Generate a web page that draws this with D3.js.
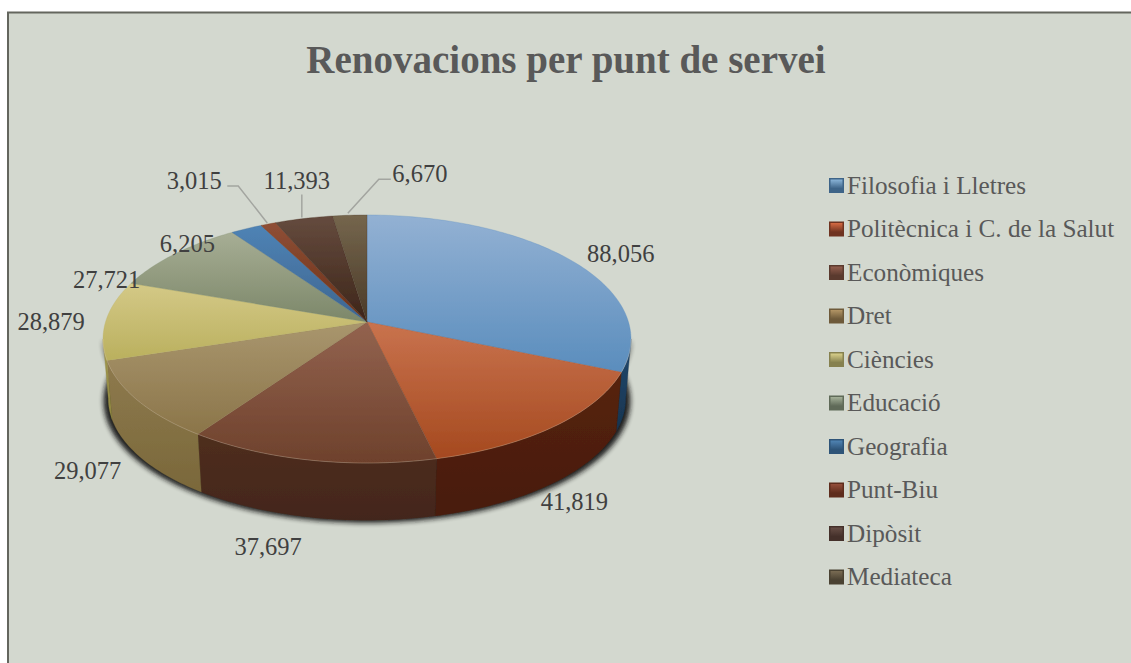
<!DOCTYPE html>
<html><head><meta charset="utf-8">
<script src="https://cdn.jsdelivr.net/npm/d3@7/dist/d3.min.js"></script>
<style>html,body{margin:0;padding:0;background:#fff;overflow:hidden}svg{display:block}text{font-family:"Liberation Serif",serif}</style>
</head><body><div id="c"></div>
<script>
const chartTitle = "Renovacions per punt de servei";
const categories = ["Filosofia i Lletres","Politècnica i C. de la Salut","Econòmiques","Dret","Ciències","Educació","Geografia","Punt-Biu","Dipòsit","Mediateca"];
const values = [88056,41819,37697,29077,28879,27721,6205,3015,11393,6670];
const topLight = ["#93b1d3","#c9734e","#93634f","#a9966e","#d4c987","#a7ae95","#4f83b5","#8f4f36","#654b3e","#75664d"];
const topDark  = ["#5a8dbd","#a5491f","#6e412c","#8b7549","#bab05e","#7c8769","#3d6590","#6b3018","#3d2519","#4a3a28"];
const sideLight = ["#234a70","#562310","#4f2e1e","#8e7a4e","#a39a50","#6c7560","#2a4d70","#5a2410","#3d2519","#4a3a28"];
const sideDark  = ["#17344f","#481b0a","#43261a","#7a683a","#8f8640","#5a6350","#1f3a55","#481b0a","#2f1c12","#3a2d20"];
const swatchEdge = ["#3e6488","#6f3320","#5a3a2e","#6e5a3a","#86814f","#5f6a58","#2e5478","#5e2c1c","#44302a","#4a4232"];
const swatchCore = ["#8ab4d8","#d66a42","#935e4e","#b29565","#d9d08a","#a5b199","#5084b4","#944e3a","#674e46","#796b53"];
const labelOffsets = [[51,-6],[19,76],[-42,86],[-50,70],[-55,1],[-68,25],[-59,15],[-74,-44],[-7,-38],[70,-42]];
const leaderElbows = {7:[[-1,-1],[-30,-38],[-41,-38]],8:[[-2,-1],[-2,-24]],9:[[-2,-2],[29,-36],[41,-36]]};

const W=1131,H=663, cx=367, cy=322, B=261.5, A=121.7, k=0.137, depth=60, bottomScale=0.98;
const svg=d3.select("#c").append("svg").attr("width",W).attr("height",H);
const defs=svg.append("defs");
svg.append("rect").attr("x",8).attr("y",12.5).attr("width",W).attr("height",H).attr("fill","#d3d8cf").attr("stroke","#64665e").attr("stroke-width",2);

const project=(t,lower=false)=>{
  const u=Math.sin(t), v=-Math.cos(t), d=1-k*v, s=lower?bottomScale:1;
  return [cx+s*B*u/d, cy+(lower?depth:0)+s*A*v/d];
};
const arcPts=(a,b,lower=false)=>{
  const n=Math.max(2,Math.ceil(Math.abs(b-a)/0.02));
  return d3.range(n+1).map(i=>project(a+(b-a)*i/n,lower));
};
const line=d3.line();
const arcs=d3.pie().sort(null)(values);
const frontL=Math.acos(-k), frontR=2*Math.PI-frontL;

const fb=defs.append("filter").attr("id","blur").attr("x","-10%").attr("y","-10%").attr("width","120%").attr("height","120%");
fb.append("feGaussianBlur").attr("stdDeviation",2.4);
const fs=defs.append("filter").attr("id","soft").attr("x","-5%").attr("y","-5%").attr("width","110%").attr("height","110%");
fs.append("feGaussianBlur").attr("stdDeviation",0.55);

const grad=(id,c1,c2)=>{
  const g=defs.append("linearGradient").attr("id",id).attr("x1",0).attr("y1",0).attr("x2",0).attr("y2",1);
  g.append("stop").attr("offset","0%").attr("stop-color",c1);
  g.append("stop").attr("offset","100%").attr("stop-color",c2);
};
categories.forEach((c,i)=>{
  grad("top"+i,topLight[i],topDark[i]);
  grad("side"+i,sideLight[i],sideDark[i]);
  grad("sw"+i,swatchCore[i],swatchEdge[i]);
});

// shadow under the wall
svg.append("path")
  .attr("d",line(arcPts(frontL-0.25,frontR+0.25,true).map(p=>[cx+(p[0]-cx)*1.018,p[1]+2.5]).concat(arcPts(frontR,frontL))) + "Z")
  .attr("fill","#161616").attr("opacity",.95).attr("filter","url(#blur)");

const pie=svg.append("g").attr("filter","url(#soft)");
// walls
arcs.forEach((d,i)=>{
  const a=Math.max(d.startAngle,frontL), b=Math.min(d.endAngle,frontR);
  if(b<=a) return;
  pie.append("path").attr("d",line(arcPts(a,b).concat(arcPts(b,a,true)))+"Z")
    .attr("fill",`url(#side${i})`).attr("stroke",sideDark[i]).attr("stroke-width",.3);
});
// top faces
arcs.forEach((d,i)=>{
  pie.append("path").attr("d",line([[cx,cy]].concat(arcPts(d.startAngle,d.endAngle)))+"Z")
    .attr("fill",`url(#top${i})`).attr("stroke",topDark[i]).attr("stroke-width",.3);
});
// rim highlight
pie.append("path").attr("d",line(arcPts(frontL,frontR))).attr("fill","none").attr("stroke","#e8d8c0").attr("stroke-width",1).attr("opacity",.28);

// leaders
Object.keys(leaderElbows).forEach(key=>{
  const d=arcs[key], m=(d.startAngle+d.endAngle)/2, p=project(m);
  svg.append("path").attr("d",line(leaderElbows[key].map(o=>[p[0]+o[0],p[1]+o[1]]))).attr("fill","none").attr("stroke","#a3a5a0").attr("stroke-width",1.5);
});
// value labels
const fmt=d3.format(",");
arcs.forEach((d,i)=>{
  const m=(d.startAngle+d.endAngle)/2, p=project(m);
  svg.append("text").attr("x",p[0]+labelOffsets[i][0]).attr("y",p[1]+labelOffsets[i][1]).attr("dy","0.35em")
    .attr("text-anchor","middle").attr("font-size",24.5).attr("fill","#404040").text(fmt(d.value));
});
// title
svg.append("text").attr("x",566).attr("y",73).attr("text-anchor","middle").attr("font-size",39).attr("font-weight","bold").attr("fill","#595959").text(chartTitle);
// legend
const ly=d3.scalePoint().domain(categories).range([185.5,577]);
const lg=svg.append("g").selectAll("g").data(categories).join("g").attr("transform",c=>`translate(829,${ly(c)})`);
lg.append("rect").attr("x",0).attr("y",-7.5).attr("width",15).attr("height",15).attr("fill",(c,i)=>swatchEdge[i]);
lg.append("rect").attr("x",1.5).attr("y",-6).attr("width",12).attr("height",9).attr("fill",(c,i)=>`url(#sw${i})`);
lg.append("text").attr("x",18).attr("y",0).attr("dy","0.33em").attr("font-size",25.2).attr("fill","#595959").text(c=>c);
</script></body></html>
